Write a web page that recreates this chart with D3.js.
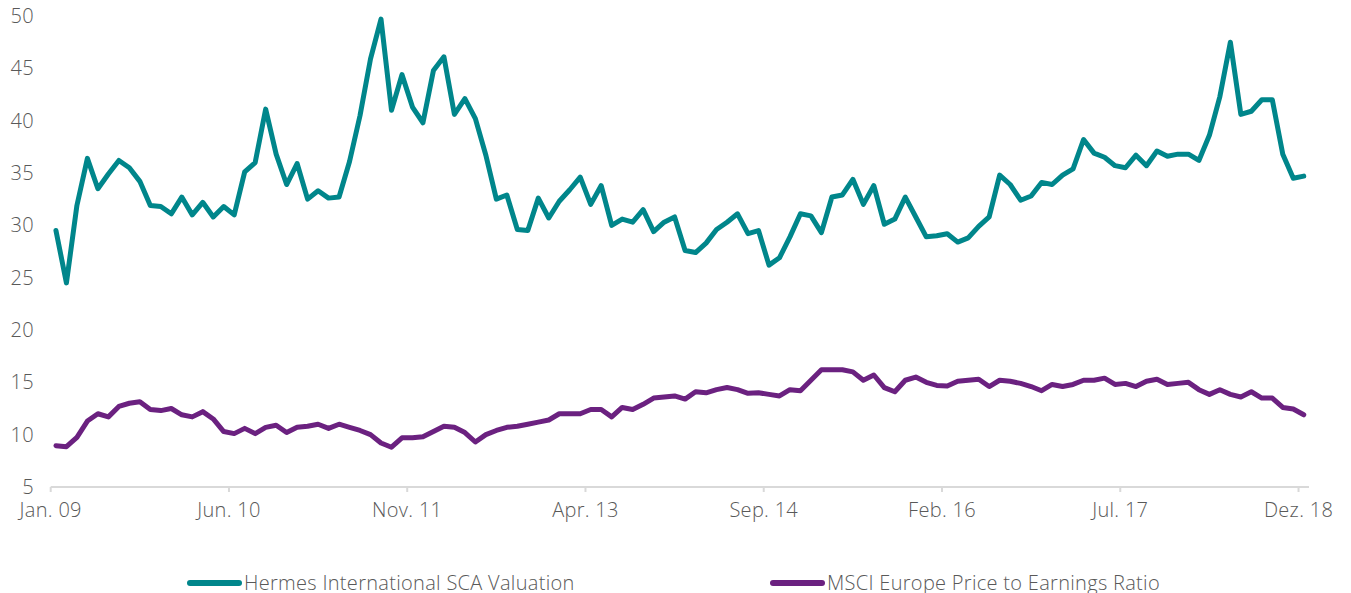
<!DOCTYPE html>
<html>
<head>
<meta charset="utf-8">
<script src="https://cdn.jsdelivr.net/npm/d3@7"></script>
<style>
  body { margin: 0; background: #fff; }
  text { font-family: "Open Sans", "DejaVu Sans", sans-serif; font-weight: 300; fill: #595959; letter-spacing: 0.3px; }
</style>
</head>
<body>
<script>
var width = 1351,
    height = 593,
    tealHex = "#00868B",
    purpleHex = "#6B2180",
    axisHex = "#d9d9d9",
    fontSize = 20;

// monthly, Jan. 09 .. Dez. 18
var months = d3.timeMonth.range(new Date(2009, 0, 1), new Date(2019, 0, 1));

var tickLabels = ["Jan. 09", "Jun. 10", "Nov. 11", "Apr. 13", "Sep. 14", "Feb. 16", "Jul. 17", "Dez. 18"];
var tickIndex = [0, 17, 34, 51, 68, 85, 102, 119];
var yTicks = [5, 10, 15, 20, 25, 30, 35, 40, 45, 50];

var hermes = [
  29.5, 24.5, 31.9, 36.4, 33.5, 34.9, 36.2, 35.5, 34.2, 31.9,
  31.8, 31.1, 32.7, 31.0, 32.2, 30.8, 31.8, 31.0, 35.1, 36.0,
  41.1, 36.8, 33.9, 35.9, 32.5, 33.3, 32.6, 32.7, 36.1, 40.5,
  45.9, 49.7, 41.0, 44.4, 41.3, 39.8, 44.8, 46.1, 40.6, 42.1,
  40.2, 36.7, 32.5, 32.9, 29.6, 29.5, 32.6, 30.7, 32.3, 33.4,
  34.6, 32.0, 33.8, 30.0, 30.6, 30.3, 31.5, 29.4, 30.3, 30.8,
  27.6, 27.4, 28.3, 29.6, 30.3, 31.1, 29.2, 29.5, 26.2, 26.9,
  28.9, 31.1, 30.9, 29.3, 32.7, 32.9, 34.4, 32.0, 33.8, 30.1,
  30.6, 32.7, 30.8, 28.9, 29.0, 29.2, 28.4, 28.8, 29.9, 30.8,
  34.8, 33.9, 32.4, 32.8, 34.1, 33.9, 34.8, 35.4, 38.2, 36.9,
  36.5, 35.7, 35.5, 36.7, 35.7, 37.1, 36.6, 36.8, 36.8, 36.2,
  38.6, 42.3, 47.5, 40.6, 40.9, 42.0, 42.0, 36.8, 34.5, 34.7
];

var msci = [
  8.95, 8.85, 9.75, 11.3, 12.0, 11.7, 12.7, 13.0, 13.15, 12.4,
  12.3, 12.5, 11.9, 11.7, 12.2, 11.5, 10.3, 10.1, 10.6, 10.1,
  10.7, 10.9, 10.2, 10.7, 10.8, 11.0, 10.6, 11.0, 10.7, 10.4,
  10.0, 9.2, 8.8, 9.7, 9.7, 9.8, 10.3, 10.8, 10.7, 10.2,
  9.3, 10.0, 10.4, 10.7, 10.8, 11.0, 11.2, 11.4, 12.0, 12.0,
  12.0, 12.4, 12.4, 11.7, 12.6, 12.4, 12.9, 13.5, 13.6, 13.7,
  13.4, 14.1, 14.0, 14.3, 14.5, 14.3, 13.95, 14.0, 13.85, 13.7,
  14.3, 14.2, 15.2, 16.2, 16.2, 16.2, 16.0, 15.2, 15.7, 14.5,
  14.1, 15.2, 15.5, 15.0, 14.7, 14.65, 15.1, 15.2, 15.3, 14.6,
  15.2, 15.1, 14.9, 14.6, 14.2, 14.8, 14.6, 14.8, 15.2, 15.2,
  15.4, 14.8, 14.9, 14.6, 15.1, 15.3, 14.8, 14.9, 15.0, 14.3,
  13.85, 14.3, 13.85, 13.6, 14.1, 13.5, 13.5, 12.6, 12.45, 11.9
];

var seriesNames = ["Hermes International SCA Valuation", "MSCI Europe Price to Earnings Ratio"];

var svg = d3.select("body")
    .append("svg")
    .attr("width", width)
    .attr("height", height);

var x = d3.scaleBand()
    .domain(d3.range(months.length))
    .range([50.7, 1309])
    .padding(0);

var y = d3.scaleLinear()
    .domain([5, 50])
    .range([487, 16]);

// x axis: ticks at the left edge of each category band
var xAxis = d3.axisBottom(x)
    .tickValues(tickIndex)
    .tickSize(5)
    .tickFormat(function(d, i) { return tickLabels[i]; });

var gx = svg.append("g")
    .attr("transform", "translate(" + (-x.bandwidth() / 2) + "," + y(5) + ")")
    .call(xAxis);
gx.select(".domain")
    .attr("d", "M" + (x.range()[0] + x.bandwidth() / 2) + ",0H" + (x.range()[1] + x.bandwidth() / 2))
    .attr("stroke", axisHex)
    .attr("stroke-width", 2);
gx.selectAll(".tick line")
    .attr("stroke", axisHex)
    .attr("stroke-width", 2);
gx.selectAll(".tick text")
    .attr("font-size", fontSize)
    .attr("fill", "#595959")
    .attr("y", 16)
    .attr("dy", "0.71em");

// y axis: labels only
var gy = svg.append("g")
    .attr("transform", "translate(34,0)")
    .call(d3.axisLeft(y).tickValues(yTicks).tickSize(0).tickPadding(0));
gy.select(".domain").remove();
gy.selectAll(".tick text")
    .attr("font-size", fontSize)
    .attr("fill", "#595959");

var line = d3.line()
    .x(function(d, i) { return x(i) + x.bandwidth() / 2; })
    .y(function(d) { return y(d); });

svg.append("path")
    .datum(msci)
    .attr("fill", "none")
    .attr("stroke", purpleHex)
    .attr("stroke-width", 5)
    .attr("stroke-linejoin", "round")
    .attr("stroke-linecap", "round")
    .attr("d", line);

svg.append("path")
    .datum(hermes)
    .attr("fill", "none")
    .attr("stroke", tealHex)
    .attr("stroke-width", 5)
    .attr("stroke-linejoin", "round")
    .attr("stroke-linecap", "round")
    .attr("d", line);

// legend
var legend = svg.selectAll(".legend")
    .data([{ name: seriesNames[0], color: tealHex, x: 187 }, { name: seriesNames[1], color: purpleHex, x: 770 }])
    .enter()
    .append("g")
    .attr("class", "legend")
    .attr("transform", function(d) { return "translate(" + d.x + ",583)"; });
legend.append("line")
    .attr("x1", 3)
    .attr("x2", 52)
    .attr("stroke", function(d) { return d.color; })
    .attr("stroke-width", 6)
    .attr("stroke-linecap", "round");
legend.append("text")
    .attr("x", 57)
    .attr("dy", "0.35em")
    .attr("font-size", fontSize)
    .text(function(d) { return d.name; });
</script>
</body>
</html>
